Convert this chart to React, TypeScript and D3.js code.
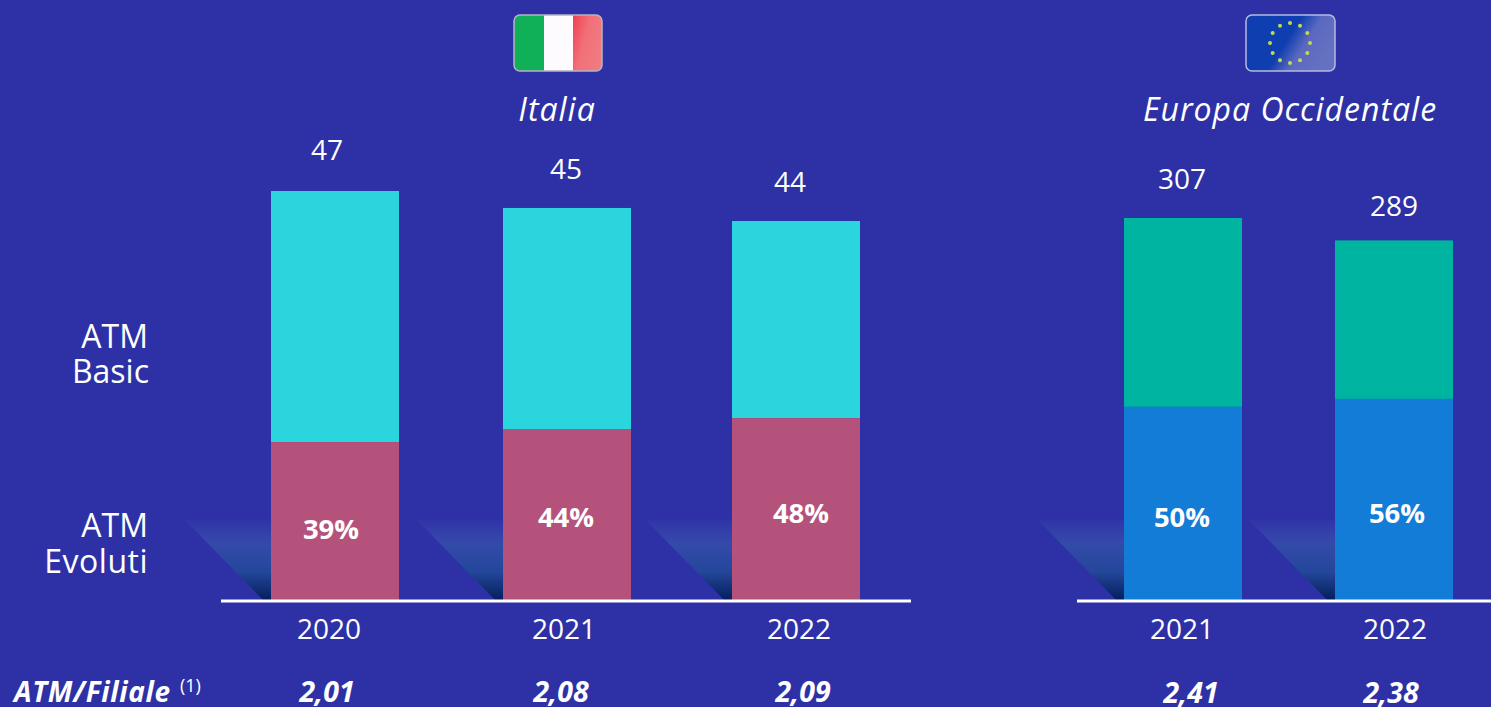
import React from "react";
import * as d3 from "d3";

const W = 1491, H = 707;
const FONT = "'Open Sans', 'Noto Sans', sans-serif";

const italyYears = ["2020", "2021", "2022"];
const italyEvoluti = [18.15, 19.65, 20.9];
const italyBasic = [28.85, 25.4, 22.65];
const italyTotals = ["47", "45", "44"];
const italyShares = ["39%", "44%", "48%"];
const italyRatio = ["2,01", "2,08", "2,09"];

const europeYears = ["2021", "2022"];
const europeEvoluti = [155.2, 161.6];
const europeBasic = [151.8, 127.4];
const europeTotals = ["307", "289"];
const europeShares = ["50%", "56%"];
const europeRatio = ["2,41", "2,38"];

const starAngles = d3.range(12).map((i) => (i * Math.PI) / 6);

type PanelProps = {
  years: string[]; evoluti: number[]; basic: number[]; totals: string[]; shares: string[]; ratios: string[];
  xScale: d3.ScaleOrdinal<string, number>; yMax: number; pixelsTop: number;
  barW: number; lineX: [number, number]; colTop: string; colBottom: string;
  totalDy: number[]; shareY: number[]; totalOffset: number[]; shareOffset: number[]; yearOffset: number[]; ratioOffset: number[]; ratioY: number[];
};

function Panel(p: PanelProps) {
  const y = d3.scaleLinear().domain([0, p.yMax]).range([600, p.pixelsTop]);
  const stacked = p.years.map((yr, i) => ({ yr, e: p.evoluti[i], b: p.basic[i], i }));
  return (
    <g>
      {stacked.map((d) => {
        const x = p.xScale(d.yr);
        const left = x - p.barW / 2;
        const shadow = d3.path();
        shadow.moveTo(left, 519);
        shadow.lineTo(left - 87, 519);
        shadow.lineTo(left - 8, 600);
        shadow.lineTo(left, 600);
        shadow.closePath();
        return (
          <g key={d.yr}>
            <path d={shadow.toString()} fill="url(#shadowGrad)" />
            <rect x={left} width={p.barW} y={y(d.e + d.b)} height={y(d.e) - y(d.e + d.b)} fill={p.colTop} />
            <rect x={left} width={p.barW} y={y(d.e)} height={600 - y(d.e)} fill={p.colBottom} />
            <text x={x + p.totalOffset[d.i]} y={y(d.e + d.b) - p.totalDy[d.i]} textAnchor="middle" fontSize={28} fill="#fff">{p.totals[d.i]}</text>
            <text x={x + p.shareOffset[d.i]} y={p.shareY[d.i]} textAnchor="middle" fontSize={27.5} fontWeight={700} fill="#fff">{p.shares[d.i]}</text>
            <text x={x + p.yearOffset[d.i]} y={639} textAnchor="middle" fontSize={28} fill="#fff">{d.yr}</text>
            <text x={x + p.ratioOffset[d.i]} y={p.ratioY[d.i]} textAnchor="middle" fontSize={28.5} fontWeight={700} fontStyle="italic" fill="#fff">{p.ratios[d.i]}</text>
          </g>
        );
      })}
      <line x1={p.lineX[0]} x2={p.lineX[1]} y1={601} y2={601} stroke="#fff" strokeWidth={3} />
    </g>
  );
}

export default function App() {
  const itX = d3.scaleOrdinal<string, number>().domain(italyYears).range([335, 567, 796]);
  const euX = d3.scaleOrdinal<string, number>().domain(europeYears).range([1183, 1394]);
  return (
    <svg width={W} height={H} viewBox={`0 0 ${W} ${H}`} fontFamily={FONT}
      style={{ position: "absolute", left: 0, top: 0, display: "block" }}>
      <defs>
        <linearGradient id="shadowGrad" x1="0" y1="0" x2="0" y2="1">
          <stop offset="0" stopColor="#3a4cab" stopOpacity={0.05} />
          <stop offset="0.3" stopColor="#344aaa" />
          <stop offset="0.65" stopColor="#24479a" />
          <stop offset="1" stopColor="#041f5e" />
        </linearGradient>
        <linearGradient id="euGloss" x1="0" y1="0" x2="1" y2="0.4">
          <stop offset="0.55" stopColor="#0f3eb0" />
          <stop offset="0.75" stopColor="#5a68c0" />
          <stop offset="1" stopColor="#6470c0" />
        </linearGradient>
        <linearGradient id="redGloss" x1="0" y1="0" x2="1" y2="0.5">
          <stop offset="0" stopColor="#ef4050" />
          <stop offset="0.5" stopColor="#f27078" />
          <stop offset="1" stopColor="#f07a80" />
        </linearGradient>
        <clipPath id="itClip"><rect x={514} y={15} width={88} height={56} rx={6} /></clipPath>
      </defs>
      <rect width={W} height={H} fill="#2e31a6" />

      <g clipPath="url(#itClip)">
        <rect x={514} y={15} width={30} height={56} fill="#0fb058" />
        <rect x={544} y={15} width={29} height={56} fill="#fdfbfd" />
        <rect x={573} y={15} width={29} height={56} fill="url(#redGloss)" />
      </g>
      <rect x={514} y={15} width={88} height={56} rx={6} fill="none" stroke="#b7b3c4" strokeWidth={1.5} />

      <rect x={1246} y={15} width={89} height={56} rx={6} fill="url(#euGloss)" stroke="#b4bbe2" strokeWidth={1.5} />
      {starAngles.map((a) => (
        <circle key={a} cx={1290 + 20 * Math.sin(a)} cy={43 - 20 * Math.cos(a)} r={2} fill="#c4d84e" />
      ))}

      <text x={557} y={121} textAnchor="middle" fontSize={32} letterSpacing={1} fontStyle="italic" fill="#fff">Italia</text>
      <text x={1290} y={121} textAnchor="middle" fontSize={32} letterSpacing={1} fontStyle="italic" fill="#fff">Europa Occidentale</text>

      <g fontSize={32} fill="#fff" textAnchor="end">
        <text x={148} y={348}>ATM</text>
        <text x={149} y={383}>Basic</text>
        <text x={148} y={537}>ATM</text>
        <text x={148} y={573} letterSpacing={0.5}>Evoluti</text>
      </g>

      <Panel years={italyYears} evoluti={italyEvoluti} basic={italyBasic} totals={italyTotals} shares={italyShares}
        ratios={italyRatio} xScale={itX} yMax={47} pixelsTop={191} barW={128} lineX={[221, 911]}
        colTop="#2bd5de" colBottom="#b5527c" totalDy={[31, 29, 29]} shareY={[539, 527, 523]}
        totalOffset={[-8, -1, -6]} shareOffset={[-4, -1, 5]} yearOffset={[-6, -3, 3]}
        ratioOffset={[-8, -6, 7]} ratioY={[702, 702, 702]} />
      <Panel years={europeYears} evoluti={europeEvoluti} basic={europeBasic} totals={europeTotals} shares={europeShares}
        ratios={europeRatio} xScale={euX} yMax={307} pixelsTop={218} barW={118} lineX={[1077, 1491]}
        colTop="#00b4a2" colBottom="#127cd6" totalDy={[29, 24]} shareY={[527, 523]}
        totalOffset={[-1, 0]} shareOffset={[-1, 3]} yearOffset={[-1, 1]}
        ratioOffset={[8, -3]} ratioY={[703, 703]} />

      <text x={14} y={702} fontSize={28} letterSpacing={0.7} fontWeight={700} fontStyle="italic" fill="#fff">ATM/Filiale</text>
      <text x={180} y={692} fontSize={18} fill="#fff">(1)</text>
    </svg>
  );
}
